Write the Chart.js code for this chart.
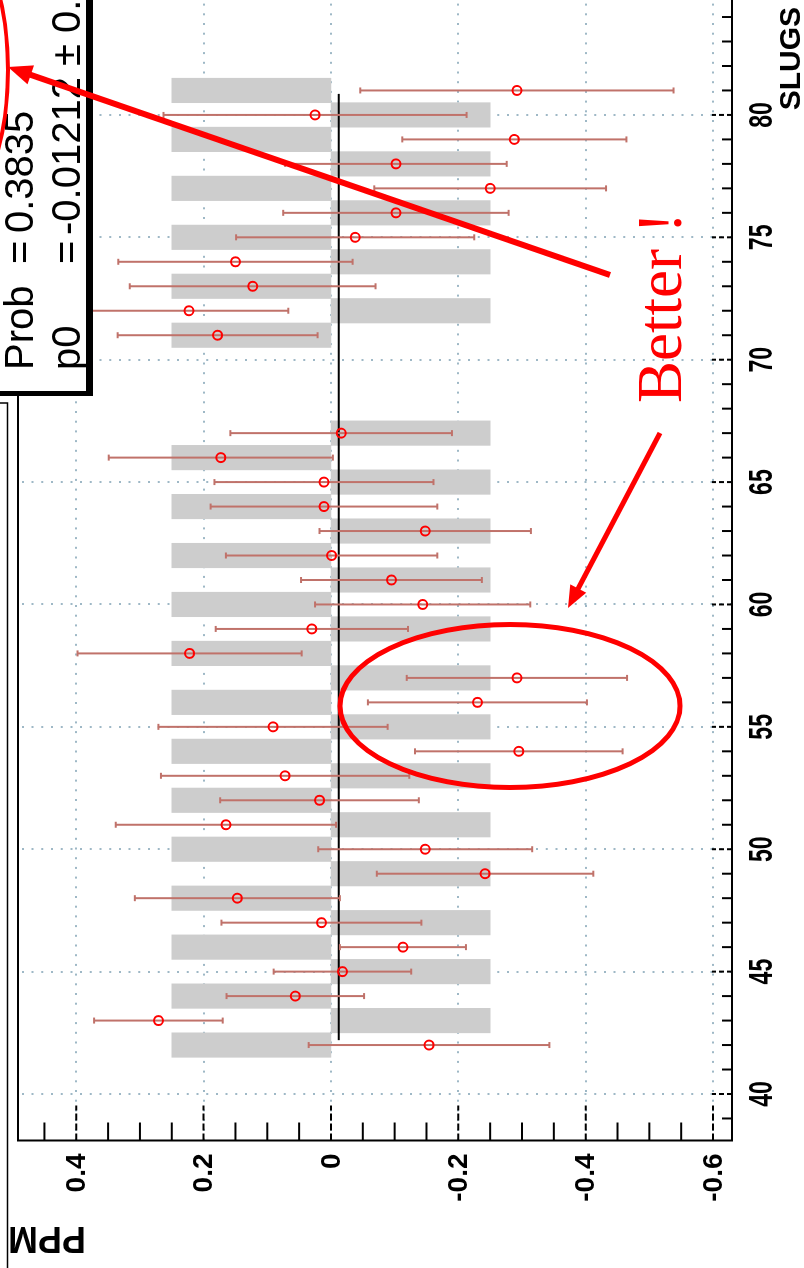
<!DOCTYPE html>
<html>
<head>
<meta charset="utf-8">
<script src="https://cdn.jsdelivr.net/npm/chart.js@4.4.1/dist/chart.umd.min.js"></script>
<style>
  html, body { margin: 0; padding: 0; background: #fff; overflow: hidden; width: 804px; height: 1268px; }
  /* the plot is laid out landscape and turned a quarter turn counter-clockwise */
  #page { position: absolute; left: 0; top: 0; width: 1300px; height: 804px;
          transform-origin: 0 0; transform: translate(0px, 1268px) rotate(-90deg); background: #fff; }
  canvas { display: block; }
</style>
</head>
<body>
<div id="page"><canvas id="c" width="1300" height="804"></canvas></div>
<script>
// Slug-averaged asymmetry (PPM) with its uncertainty
const slugs  = [42, 43, 44, 45, 46, 47, 48, 49, 50, 51, 52, 53, 54, 55, 56, 57, 58, 59, 60, 61,
                62, 63, 64, 65, 66, 67, 71, 72, 73, 74, 75, 76, 77, 78, 79, 80, 81];
const ppm    = [-0.154, 0.271, 0.056, -0.018, -0.113, 0.015, 0.147, -0.242, -0.148, 0.165,
                0.018, 0.072, -0.295, 0.091, -0.230, -0.292, 0.222, 0.030, -0.144, -0.095,
                -0.001, -0.148, 0.011, 0.011, 0.173, -0.016, 0.178, 0.223, 0.123, 0.150,
                -0.038, -0.102, -0.250, -0.102, -0.288, 0.025, -0.292];
const ppmErr = [0.189, 0.101, 0.108, 0.108, 0.099, 0.157, 0.161, 0.170, 0.168, 0.173,
                0.156, 0.195, 0.163, 0.180, 0.172, 0.173, 0.176, 0.151, 0.169, 0.142,
                0.166, 0.166, 0.178, 0.172, 0.176, 0.174, 0.157, 0.156, 0.193, 0.184,
                0.187, 0.177, 0.182, 0.174, 0.176, 0.238, 0.246];

// Half-wave-plate state per slug (drawn as grey bands)
const ihwpSlugs = [42, 43, 44, 45, 46, 47, 48, 49, 50, 51, 52, 53, 54, 55, 56, 57, 58, 59, 60, 61,
                   62, 63, 64, 65, 66, 67, 71, 72, 73, 74, 75, 76, 77, 78, 79, 80, 81];
const ihwpLevel = [0.25, -0.25, 0.25, -0.25, 0.25, -0.25, 0.25, -0.25, 0.25, -0.25,
                   0.25, -0.25, 0.25, -0.25, 0.25, -0.25, 0.25, -0.25, 0.25, -0.25,
                   0.25, -0.25, 0.25, -0.25, 0.25, -0.25, 0.25, -0.25, 0.25, -0.25,
                   0.25, -0.25, 0.25, -0.25, 0.25, -0.25, 0.25];

// Constant (pol0) fit
const fitP0 = -0.01212;
const fitRange = [42.2, 80.86];
const fitProb = '0.3835';
const fitP0Text = '-0.01212 \u00b1 0.0';

// Axes
const slugRange = [38.1, 84.9];
const ppmRange = [-0.6298, 0.4915];
const slugMajorTicks = [40, 45, 50, 55, 60, 65, 70, 75, 80];
const slugTickLabels = ['40', '45', '50', '55', '60', '65', '70', '75', '80'];
const ppmMajorTicks = [0.4, 0.2, 0, -0.2, -0.4, -0.6];
const ppmTickLabels = ['0.4', '0.2', '0', '-0.2', '-0.4', '-0.6'];

const RED = '#ff0000';
const ERR_COLOR = 'rgb(192,114,106)';
const SANS = '"Liberation Sans", Arial, Helvetica, sans-serif';

function seg(ctx, x1, y1, x2, y2) {
  ctx.beginPath(); ctx.moveTo(x1, y1); ctx.lineTo(x2, y2); ctx.stroke();
}

function arrow(ctx, x1, y1, x2, y2, w, headLen, headW) {
  const ang = Math.atan2(y2 - y1, x2 - x1);
  const bx = x2 - headLen * Math.cos(ang), by = y2 - headLen * Math.sin(ang);
  ctx.lineWidth = w;
  ctx.lineCap = 'butt';
  seg(ctx, x1, y1, bx + 2 * Math.cos(ang), by + 2 * Math.sin(ang));
  ctx.beginPath();
  ctx.moveTo(x2, y2);
  ctx.lineTo(bx + headW * Math.sin(ang), by - headW * Math.cos(ang));
  ctx.lineTo(bx - headW * Math.sin(ang), by + headW * Math.cos(ang));
  ctx.closePath();
  ctx.fill();
}

const rootDeco = {
  id: 'rootDeco',
  // dotted grid at the major ticks
  beforeDatasetsDraw(chart) {
    const { ctx, chartArea: a, scales: { x, y } } = chart;
    ctx.save();
    ctx.strokeStyle = 'rgb(158,184,198)';
    ctx.lineWidth = 2;
    ctx.setLineDash([2, 7.7]);
    slugMajorTicks.forEach(s => {
      const p = Math.round(x.getPixelForValue(s));
      seg(ctx, p, a.bottom, p, a.top);
    });
    ppmMajorTicks.forEach(v => {
      const p = Math.round(y.getPixelForValue(v));
      seg(ctx, a.left, p, a.right, p);
    });
    ctx.restore();
  },
  // error bars go under the markers
  beforeDatasetDraw(chart, args) {
    if (chart.data.datasets[args.index].label !== 'asym') return;
    const { ctx, scales: { x, y } } = chart;
    ctx.save();
    ctx.strokeStyle = ERR_COLOR;
    ctx.lineWidth = 2;
    slugs.forEach((s, i) => {
      const px = x.getPixelForValue(s);
      const hi = y.getPixelForValue(ppm[i] + ppmErr[i]);
      const lo = y.getPixelForValue(ppm[i] - ppmErr[i]);
      seg(ctx, px, hi, px, lo);
      seg(ctx, px - 3, hi, px + 3, hi);
      seg(ctx, px - 3, lo, px + 3, lo);
    });
    ctx.restore();
  },
  // frame, ticks, tick labels and axis titles
  afterDatasetsDraw(chart) {
    const { ctx, chartArea: a, scales: { x, y } } = chart;
    ctx.save();
    ctx.strokeStyle = '#000';
    ctx.lineWidth = 2;
    ctx.strokeRect(a.left, a.top, a.right - a.left, a.bottom - a.top);

    // PPM axis: minor every 0.05, major every 0.2
    for (let k = -12; k <= 9; k++) {
      const v = k * 0.05;
      if (v < ppmRange[0] || v > ppmRange[1]) continue;
      const p = y.getPixelForValue(v);
      const major = k % 4 === 0;
      ctx.setLineDash(major ? [7, 3] : []);
      seg(ctx, a.left, p, a.left + (major ? 35 : 18), p);
    }
    // slug axis: minor every slug, major every 5
    for (let s = Math.ceil(slugRange[0]); s <= Math.floor(slugRange[1]); s++) {
      const p = x.getPixelForValue(s);
      const major = s % 5 === 0;
      ctx.setLineDash(major ? [5, 3] : []);
      seg(ctx, p, a.bottom, p, a.bottom - (major ? 20 : 10));
    }
    ctx.setLineDash([]);

    ctx.fillStyle = '#000';
    ctx.font = 'bold 28px ' + SANS;
    ctx.textAlign = 'right';
    ctx.textBaseline = 'middle';
    ppmMajorTicks.forEach((v, i) => {
      ctx.fillText(ppmTickLabels[i], a.left - 13, y.getPixelForValue(v) + 1);
    });

    ctx.font = 'bold 34px ' + SANS;
    ctx.textAlign = 'center';
    ctx.textBaseline = 'alphabetic';
    slugMajorTicks.forEach((s, i) => {
      ctx.save();
      ctx.translate(x.getPixelForValue(s), a.bottom + 40);
      ctx.scale(0.68, 1);
      ctx.fillText(slugTickLabels[i], 0, 0);
      ctx.restore();
    });

    ctx.font = 'bold 30px ' + SANS;
    ctx.textAlign = 'right';
    ctx.fillText('SLUGS', 1261, 800);

    ctx.save();
    ctx.font = 'bold 36px ' + SANS;
    ctx.textAlign = 'left';
    ctx.translate(41, 86);
    ctx.rotate(-Math.PI / 2);
    ctx.fillText('PPM', 0, 0);
    ctx.restore();
    ctx.restore();
  },
  // fit statistics box and hand-drawn notes
  afterDraw(chart) {
    const { ctx } = chart;
    ctx.save();

    // neighbouring pad edge
    ctx.strokeStyle = '#000';
    ctx.lineWidth = 1.5;
    ctx.strokeRect(-5, -20, 870, 27.5);

    // stats box with shadow
    ctx.fillStyle = '#000';
    ctx.fillRect(872, -10, 5, 103);
    ctx.fillRect(872, 88, 440, 5);
    ctx.fillStyle = '#fff';
    ctx.fillRect(876, -10, 440, 97);
    ctx.lineWidth = 2;
    ctx.strokeRect(876, -10, 440, 97);

    ctx.fillStyle = '#000';
    ctx.font = '40px ' + SANS;
    ctx.textAlign = 'left';
    ctx.textBaseline = 'alphabetic';
    ctx.fillText('Prob', 898, 33);
    ctx.fillText('=', 1004, 33);
    ctx.fillText(fitProb, 1035, 33);
    ctx.fillText('p0', 898, 80);
    ctx.fillText('=', 1004, 80);
    ctx.fillText(fitP0Text, 1033, 80);

    // notes in red
    ctx.strokeStyle = RED;
    ctx.fillStyle = RED;

    ctx.lineWidth = 5;
    ctx.beginPath();
    ctx.ellipse(562, 510, 81.5, 170, 0, 0, Math.PI * 2);
    ctx.stroke();

    ctx.lineWidth = 4;
    ctx.beginPath();
    ctx.ellipse(1198, -52, 144, 60, 0, 0, Math.PI * 2);
    ctx.stroke();

    arrow(ctx, 835, 660, 660, 568, 5, 22, 9);
    arrow(ctx, 993, 610, 1201, 8, 6, 24, 10);

    ctx.font = '63px "Liberation Serif", "Times New Roman", serif';
    ctx.textAlign = 'left';
    ctx.fillText('Better !', 865, 681);

    ctx.restore();
  }
};

new Chart(document.getElementById('c'), {
  type: 'scatter',
  data: {
    datasets: [
      {
        type: 'bar',
        label: 'ihwp',
        data: ihwpSlugs.map((s, i) => ({ x: s, y: ihwpLevel[i] })),
        backgroundColor: 'rgb(205,205,205)',
        borderWidth: 0,
        barPercentage: 1,
        categoryPercentage: 1,
        order: 3
      },
      {
        type: 'scatter',
        label: 'asym',
        data: slugs.map((s, i) => ({ x: s, y: ppm[i] })),
        pointStyle: 'circle',
        pointRadius: 4.5,
        pointBorderWidth: 2,
        pointBorderColor: RED,
        pointBackgroundColor: 'rgba(0,0,0,0)',
        borderColor: RED,
        backgroundColor: 'rgba(0,0,0,0)',
        order: 1
      },
      {
        type: 'line',
        label: 'pol0',
        data: fitRange.map(s => ({ x: s, y: fitP0 })),
        borderColor: '#000',
        borderWidth: 2,
        pointRadius: 0,
        fill: false,
        showLine: true,
        order: 2
      }
    ]
  },
  options: {
    responsive: false,
    animation: false,
    devicePixelRatio: 1,
    events: [],
    layout: { padding: { left: 127.5, right: 27, top: 18, bottom: 72 } },
    scales: {
      x: { type: 'linear', min: slugRange[0], max: slugRange[1], offset: false, display: false, grid: { offset: false } },
      y: { type: 'linear', min: ppmRange[0], max: ppmRange[1], display: false }
    },
    plugins: { legend: { display: false }, tooltip: { enabled: false } }
  },
  plugins: [rootDeco]
});
</script>
</body>
</html>
